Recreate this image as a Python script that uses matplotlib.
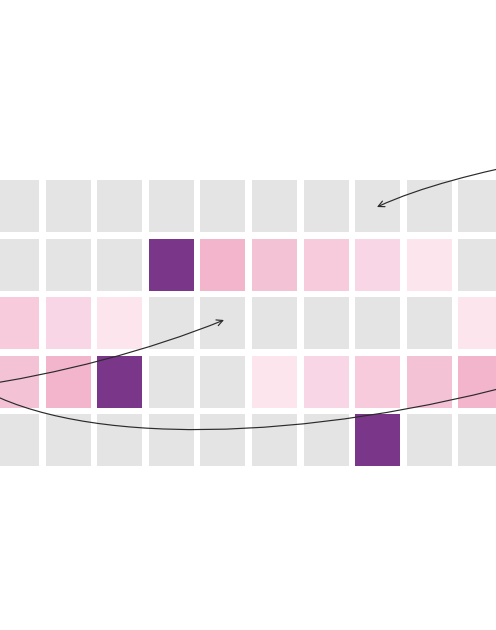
import matplotlib
matplotlib.use("Agg")
import matplotlib.pyplot as plt
from matplotlib.patches import FancyArrowPatch
from matplotlib.path import Path
import numpy as np

# Data: intensity level per cell (0 = empty/gray, 1-5 = pink shades, 6 = highlight)
rows = ["r1", "r2", "r3", "r4", "r5"]
columns = list(range(10))
row1 = [0, 0, 0, 0, 0, 0, 0, 0, 0, 0]
row2 = [0, 0, 0, 6, 5, 4, 3, 2, 1, 0]
row3 = [3, 2, 1, 0, 0, 0, 0, 0, 0, 1]
row4 = [4, 5, 6, 0, 0, 1, 2, 3, 4, 5]
row5 = [0, 0, 0, 0, 0, 0, 0, 6, 0, 0]
levels = [row1, row2, row3, row4, row5]

palette = {0: "#e4e4e4", 1: "#fce5ec", 2: "#f9d6e5", 3: "#f7cbdc",
           4: "#f4c2d5", 5: "#f2b5cb", 6: "#7a3789"}

fig = plt.figure(figsize=(4.96, 6.30), dpi=100)
ax = fig.add_axes([0, 0, 1, 1])
ax.set_xlim(0.116, 0.116 + 496 / 51.6)
ax.set_ylim(630 / 58.5 - 180 / 58.5, -180 / 58.5)
ax.axis("off")

cell_w = 45 / 51.6
cell_h = 52 / 58.5
for i, vals in enumerate(levels):
    ax.bar(columns, [cell_h] * len(columns), width=cell_w, bottom=i,
           align="edge", color=[palette[v] for v in vals], linewidth=0)

# annotation arrows (data coordinates)
def curve(pts, style):
    codes = [Path.MOVETO, Path.CURVE4, Path.CURVE4, Path.CURVE4]
    p = FancyArrowPatch(path=Path(pts, codes), arrowstyle=style,
                        mutation_scale=11, lw=0.85, color="#2b2b2b",
                        clip_on=False)
    ax.add_patch(p)

curve([(10.581, -0.342), (9.418, -0.137), (8.256, 0.120), (7.422, 0.462)], "->")
curve([(-0.465, 3.538), (1.279, 3.316), (3.023, 2.906), (4.457, 2.393)], "->")
curve([(-0.272, 3.556), (1.666, 4.530), (5.930, 4.530), (10.581, 3.385)], "-")

fig.savefig("out.png", dpi=100)
